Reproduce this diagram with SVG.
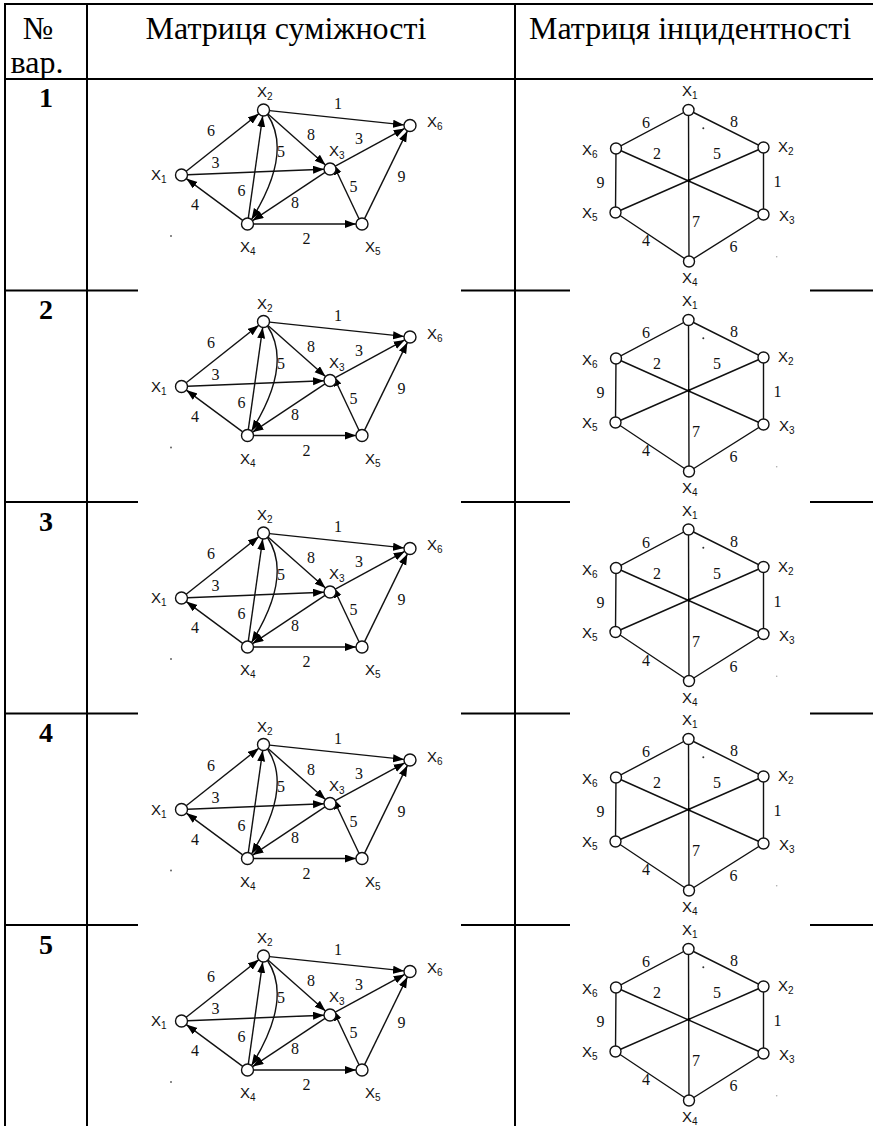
<svg xmlns="http://www.w3.org/2000/svg" xmlns:xlink="http://www.w3.org/1999/xlink" width="873" height="1126" viewBox="0 0 873 1126">
<defs>
<style>
.tl{stroke:#000;stroke-width:2;fill:none}
.e{stroke:#111;stroke-width:1.4;fill:none}
.ea{stroke:#111;stroke-width:1.4;fill:none;marker-end:url(#arr)}
.n{fill:#fff;stroke:#111;stroke-width:1.4}
.hd{font-family:"Liberation Serif","Times New Roman",serif;font-size:32px;text-anchor:middle;fill:#000}
.rn{font-family:"Liberation Serif","Times New Roman",serif;font-size:28px;font-weight:bold;text-anchor:middle;fill:#000}
.x{font-family:"Liberation Sans",Arial,sans-serif;font-size:15px;fill:#111}
.s{font-size:10px}
.w{font-family:"Liberation Serif","Times New Roman",serif;font-size:16px;text-anchor:middle;fill:#111}
</style>
<marker id="arr" markerUnits="userSpaceOnUse" markerWidth="12" markerHeight="9" refX="11" refY="4" orient="auto">
<path d="M0,0 L11,4 L0,8 Z" fill="#000"/>
</marker>
</defs>
<rect width="873" height="1126" fill="#fff"/>
<g id="table">
<line class="tl" x1="5" y1="4" x2="873" y2="4"/>
<line class="tl" x1="5" y1="79" x2="873" y2="79"/>
<path class="tl" d="M5,290.5H138M461,290.5H570M810,290.5H873M5,502H138M461,502H570M810,502H873M5,713.5H138M461,713.5H570M810,713.5H873M5,925H138M461,925H570M810,925H873"/>
<line class="tl" x1="5" y1="3" x2="5" y2="1126"/>
<line class="tl" x1="87" y1="3" x2="87" y2="1126"/>
<line class="tl" x1="515" y1="3" x2="515" y2="1126"/>
</g>
<g id="header">
<text class="hd" x="38" y="39">№</text>
<text class="hd" x="37" y="73">вар.</text>
<text class="hd" x="286" y="39">Матриця суміжності</text>
<text class="hd" x="690" y="39">Матриця інцидентності</text>
</g>
<g id="rownums">
<text class="rn" x="46" y="107">1</text>
<text class="rn" x="46" y="319">2</text>
<text class="rn" x="46" y="530.5">3</text>
<text class="rn" x="46" y="742">4</text>
<text class="rn" x="46" y="953.5">5</text>
</g>
<g id="adj1">
<g id="adj1-edges">
<line class="ea" x1="269.5" y1="110.6" x2="404" y2="124.9"/>
<line class="ea" x1="186.2" y1="171.3" x2="258.8" y2="113.7"/>
<line class="ea" x1="187.5" y1="174.8" x2="324" y2="169.2"/>
<line class="ea" x1="268" y1="114" x2="325.5" y2="165"/>
<line class="ea" x1="335.3" y1="166.1" x2="404.7" y2="128.4"/>
<line class="ea" x1="364.6" y1="218.6" x2="407.4" y2="130.9"/>
<line class="ea" x1="359" y1="218.8" x2="333" y2="163.8"/>
<line class="ea" x1="325" y1="172.3" x2="252.5" y2="220.7"/>
<line class="ea" x1="248.3" y1="218.1" x2="262.7" y2="115.9"/>
<path class="ea" d="M267.5,114.5 Q293,153 251.5,219.5"/>
<line class="ea" x1="242.7" y1="220.4" x2="186.3" y2="178.6"/>
<line class="ea" x1="253.5" y1="224" x2="356" y2="224"/>
<text class="w" x="338" y="109">1</text>
<text class="w" x="211" y="136">6</text>
<text class="w" x="311" y="140">8</text>
<text class="w" x="359" y="144">3</text>
<text class="w" x="281" y="157">5</text>
<text class="w" x="215.5" y="168">3</text>
<text class="w" x="401.5" y="182">9</text>
<text class="w" x="241.5" y="196">6</text>
<text class="w" x="353.5" y="192">5</text>
<text class="w" x="295" y="208">8</text>
<text class="w" x="195" y="210">4</text>
<text class="w" x="306.5" y="244">2</text>
<circle cx="171" cy="236" r="1" fill="#666"/>
</g>
<g id="adj1-x1"><circle class="n" cx="181.5" cy="175" r="6"/><text class="x" x="151" y="180">X<tspan class="s" dy="3">1</tspan></text></g>
<g id="adj1-x2"><circle class="n" cx="263.5" cy="110" r="6"/><text class="x" x="257" y="97">X<tspan class="s" dy="3">2</tspan></text></g>
<g id="adj1-x3"><circle class="n" cx="330" cy="169" r="6"/><text class="x" x="329" y="156">X<tspan class="s" dy="3">3</tspan></text></g>
<g id="adj1-x4"><circle class="n" cx="247.5" cy="224" r="6"/><text class="x" x="240" y="252">X<tspan class="s" dy="3">4</tspan></text></g>
<g id="adj1-x5"><circle class="n" cx="362" cy="224" r="6"/><text class="x" x="365" y="252">X<tspan class="s" dy="3">5</tspan></text></g>
<g id="adj1-x6"><circle class="n" cx="410" cy="125.5" r="6"/><text class="x" x="427" y="127">X<tspan class="s" dy="3">6</tspan></text></g>
</g>
<g id="inc1">
<g id="inc1-edges">
<path class="e" d="M688.5,110 L763.5,147.5 L763.5,214.5 L689,261.5 L615.5,212.5 L616,148.5 Z M688.5,110 L689,261.5 M763.5,147.5 L615.5,212.5 M763.5,214.5 L616,148.5"/>
<circle cx="688.8" cy="180.5" r="1.6" fill="#000"/>
<text class="w" x="646" y="128">6</text>
<text class="w" x="734" y="127">8</text>
<text class="w" x="657" y="159">2</text>
<text class="w" x="717" y="159">5</text>
<text class="w" x="600.5" y="188">9</text>
<text class="w" x="777.5" y="187">1</text>
<text class="w" x="696" y="227">7</text>
<text class="w" x="646" y="246">4</text>
<text class="w" x="733.5" y="252">6</text>
<circle cx="703.3" cy="128.3" r="1" fill="#333"/>
<circle cx="776.7" cy="256.7" r="0.8" fill="#aaa"/>
</g>
<g id="inc1-x1"><circle class="n" cx="688.5" cy="110" r="5.5"/><text class="x" x="682" y="96">X<tspan class="s" dy="3">1</tspan></text></g>
<g id="inc1-x2"><circle class="n" cx="763.5" cy="147.5" r="5.5"/><text class="x" x="778" y="152">X<tspan class="s" dy="3">2</tspan></text></g>
<g id="inc1-x3"><circle class="n" cx="763.5" cy="214.5" r="5.5"/><text class="x" x="779" y="221">X<tspan class="s" dy="3">3</tspan></text></g>
<g id="inc1-x4"><circle class="n" cx="689" cy="261.5" r="5.5"/><text class="x" x="682" y="283">X<tspan class="s" dy="3">4</tspan></text></g>
<g id="inc1-x5"><circle class="n" cx="615.5" cy="212.5" r="5.5"/><text class="x" x="582" y="218">X<tspan class="s" dy="3">5</tspan></text></g>
<g id="inc1-x6"><circle class="n" cx="616" cy="148.5" r="5.5"/><text class="x" x="582" y="155">X<tspan class="s" dy="3">6</tspan></text></g>
</g>
<use id="adj2" href="#adj1" xlink:href="#adj1" transform="translate(0,211.5)"/>
<use id="adj3" href="#adj1" xlink:href="#adj1" transform="translate(0,423)"/>
<use id="adj4" href="#adj1" xlink:href="#adj1" transform="translate(0,634.5)"/>
<use id="adj5" href="#adj1" xlink:href="#adj1" transform="translate(0,846)"/>
<use id="inc2" href="#inc1" xlink:href="#inc1" transform="translate(0,210)"/>
<use id="inc3" href="#inc1" xlink:href="#inc1" transform="translate(0,419.5)"/>
<use id="inc4" href="#inc1" xlink:href="#inc1" transform="translate(0,629)"/>
<use id="inc5" href="#inc1" xlink:href="#inc1" transform="translate(0,839)"/>
</svg>
